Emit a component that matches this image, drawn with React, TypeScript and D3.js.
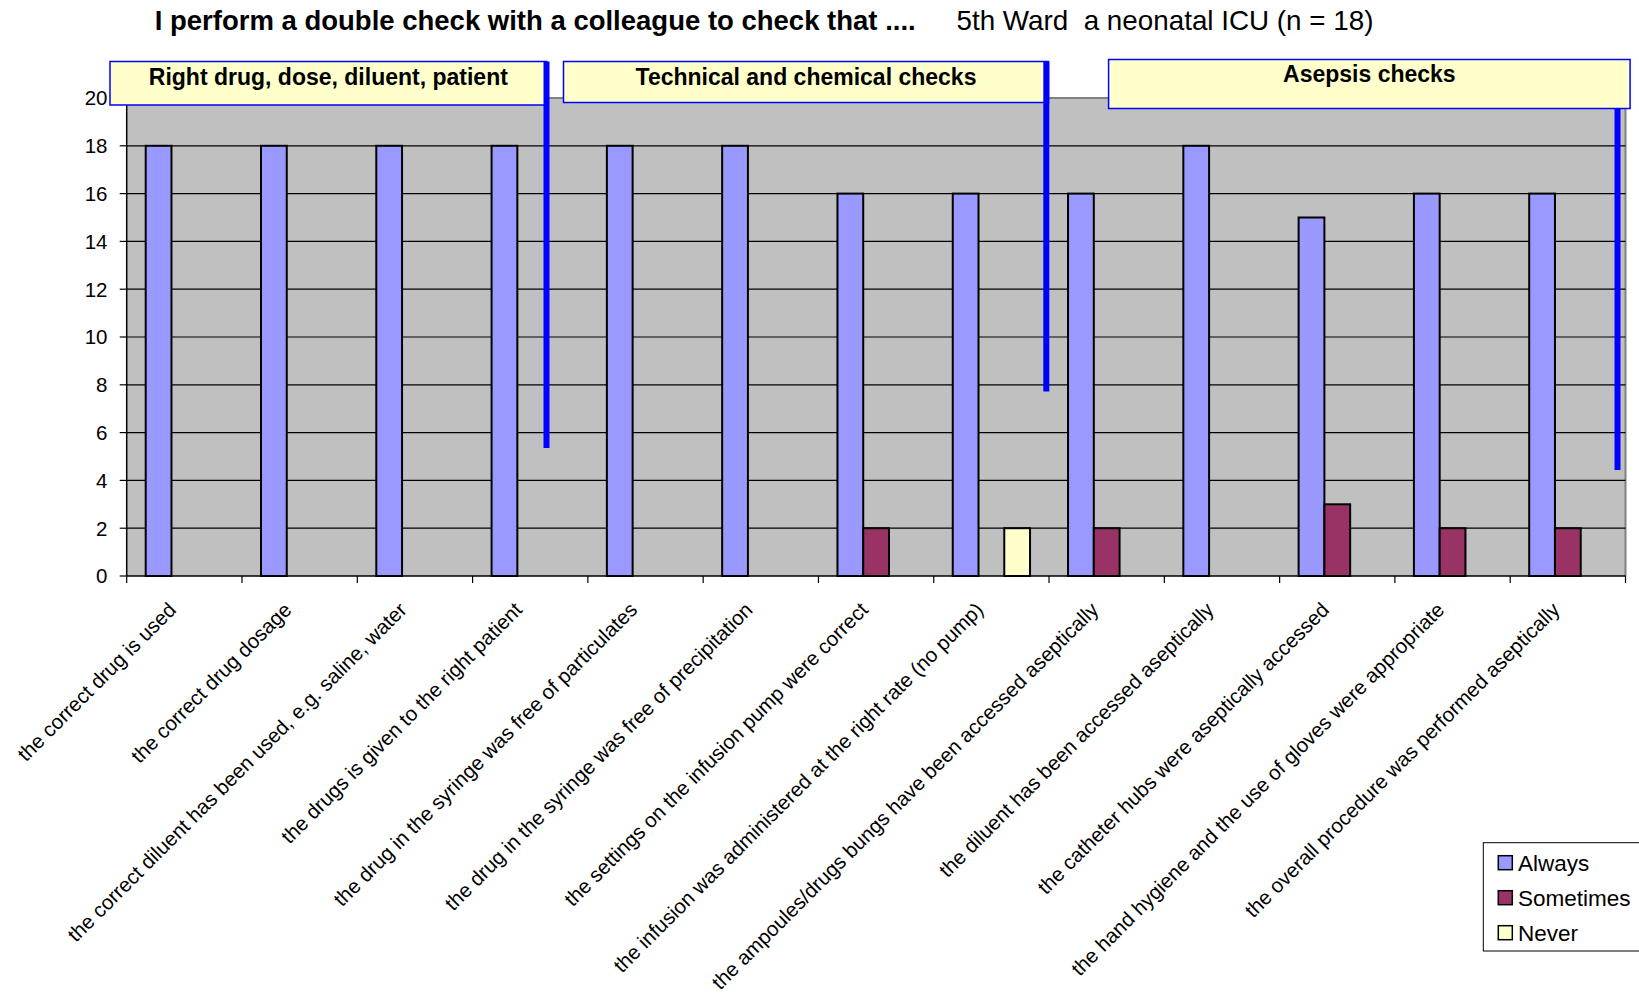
import React, { useEffect } from "react";
import * as d3 from "d3";

const categories: string[] = [
  "the correct drug is used",
  "the correct drug dosage",
  "the correct diluent has been used, e.g. saline, water",
  "the drugs is given to the right patient",
  "the drug in the syringe was free of particulates",
  "the drug in the syringe was free of precipitation",
  "the settings on the infusion pump were correct",
  "the infusion was administered at the right rate (no pump)",
  "the ampoules/drugs bungs have been accessed aseptically",
  "the diluent has been accessed aseptically",
  "the catheter hubs were aseptically accessed",
  "the hand hygiene and the use of gloves were appropriate",
  "the overall procedure was performed aseptically",
];

const seriesNames: string[] = ["Always", "Sometimes", "Never"];
const always: number[] = [18, 18, 18, 18, 18, 18, 16, 16, 16, 18, 15, 16, 16];
const sometimes: number[] = [0, 0, 0, 0, 0, 0, 2, 0, 2, 0, 3, 2, 2];
const never: number[] = [0, 0, 0, 0, 0, 0, 0, 2, 0, 0, 0, 0, 0];
const yTicks: number[] = [0, 2, 4, 6, 8, 10, 12, 14, 16, 18, 20];
const groupLabels: string[] = [
  "Right drug, dose, diluent, patient",
  "Technical and chemical checks",
  "Asepsis checks",
];
const titleBold = "I perform a double check with a colleague to check that ....";
const titleNormal = "5th Ward  a neonatal ICU (n = 18)";

const colors: Record<string, string> = {
  Always: "#9999FF",
  Sometimes: "#993366",
  Never: "#FFFFCC",
};

const FONT = "'Liberation Sans', Arial, Helvetica, sans-serif";

export default function App() {
  useEffect(() => {
    document.body.style.margin = "0";
  }, []);

  const W = 1639;
  const H = 999;
  const left = 126.7;
  const right = 1625.5;
  const top = 98;
  const bottom = 576;

  const x0 = d3.scaleBand<string>().domain(categories).range([left, right]).padding(0);
  const bw = x0.bandwidth();
  const x1 = d3.scaleBand<string>().domain(seriesNames).range([19, bw - 19]).padding(0);
  const y = d3.scaleLinear().domain([0, 20]).range([bottom, top]);

  const values: Record<string, number[]> = { Always: always, Sometimes: sometimes, Never: never };

  const boxes = [
    { x: 110, y: 61.5, w: 436.7, h: 43.5, ty: 84.5 },
    { x: 563.5, y: 61.5, w: 485, h: 41, ty: 84.5 },
    { x: 1108.6, y: 59.5, w: 521.5, h: 49, ty: 81.5 },
  ];
  const vlines = [
    { x: 546.5, y1: 61.5, y2: 448 },
    { x: 1046.3, y1: 61.5, y2: 391.5 },
    { x: 1617.5, y1: 108.8, y2: 470 },
  ];

  return (
    <svg
      width={W}
      height={H}
      style={{ position: "absolute", left: 0, top: 0, background: "#fff" }}
      fontFamily={FONT}
    >
      <rect x={0} y={0} width={W} height={H} fill="#fff" />
      {/* plot area */}
      <rect x={left} y={top} width={right - left} height={bottom - top} fill="#C0C0C0" />
      <line x1={left} x2={right} y1={top} y2={top} stroke="#808080" strokeWidth={2} />
      <line x1={right} x2={right} y1={top} y2={bottom} stroke="#808080" strokeWidth={2} />
      {yTicks
        .filter((t) => t > 0 && t < 20)
        .map((t) => (
          <line key={"g" + t} x1={left} x2={right} y1={y(t)} y2={y(t)} stroke="#000" strokeWidth={1.2} />
        ))}
      {/* bars */}
      {categories.map((c, i) => (
        <g key={"c" + i} transform={`translate(${x0(c)},0)`}>
          {seriesNames.map((s) => {
            const v = values[s][i];
            if (!v) return null;
            return (
              <rect
                key={s}
                x={x1(s)!}
                y={y(v)}
                width={x1.bandwidth()}
                height={y(0) - y(v)}
                fill={colors[s]}
                stroke="#000"
                strokeWidth={2}
              />
            );
          })}
        </g>
      ))}
      {/* axes */}
      <line x1={left} x2={left} y1={top} y2={bottom} stroke="#000" strokeWidth={1.5} />
      <line x1={left} x2={right} y1={bottom} y2={bottom} stroke="#000" strokeWidth={1.5} />
      {yTicks.map((t) => (
        <g key={"yt" + t}>
          <line x1={left - 7} x2={left} y1={y(t)} y2={y(t)} stroke="#000" strokeWidth={1.2} />
          <text x={107.5} y={y(t)} dy="0.36em" textAnchor="end" fontSize={20.5} fill="#000">
            {t}
          </text>
        </g>
      ))}
      {categories.map((c, i) => (
        <line
          key={"xt" + i}
          x1={x0(c)!}
          x2={x0(c)!}
          y1={bottom}
          y2={bottom + 7}
          stroke="#000"
          strokeWidth={1.2}
        />
      ))}
      <line x1={right} x2={right} y1={bottom} y2={bottom + 7} stroke="#000" strokeWidth={1.2} />
      {categories.map((c, i) => (
        <text
          key={"xl" + i}
          transform={`translate(${x0(c)! + bw / 2 - 12},${606}) rotate(-45)`}
          textAnchor="end"
          dy="0.35em"
          fontSize={20.5}
          fill="#000"
        >
          {c}
        </text>
      ))}
      {/* group boxes */}
      {boxes.map((b, i) => (
        <g key={"b" + i}>
          <rect x={b.x} y={b.y} width={b.w} height={b.h} fill="#FFFFCC" stroke="#0000FF" strokeWidth={1.5} />
          <text x={b.x + b.w / 2} y={b.ty} textAnchor="middle" fontSize={23} fontWeight="bold" fill="#000">
            {groupLabels[i]}
          </text>
        </g>
      ))}
      {vlines.map((l, i) => (
        <line key={"v" + i} x1={l.x} x2={l.x} y1={l.y1} y2={l.y2} stroke="#0000FF" strokeWidth={6} />
      ))}
      {/* title */}
      <text x={154.7} y={30} fontSize={27.5} fontWeight="bold" fill="#000">
        {titleBold}
      </text>
      <text x={956.5} y={30} fontSize={27.8} fill="#000" style={{ whiteSpace: "pre" }}>
        {titleNormal}
      </text>
      {/* legend */}
      <rect x={1483.3} y={842.7} width={170} height={108.3} fill="#fff" stroke="#000" strokeWidth={1} />
      {seriesNames.map((s, i) => (
        <g key={"lg" + s}>
          <rect x={1498.3} y={855.7 + i * 35} width={14} height={14} fill={colors[s]} stroke="#000" strokeWidth={1.5} />
          <text x={1518} y={862.7 + i * 35} dy="0.36em" fontSize={22.5} fill="#000">
            {s}
          </text>
        </g>
      ))}
    </svg>
  );
}
